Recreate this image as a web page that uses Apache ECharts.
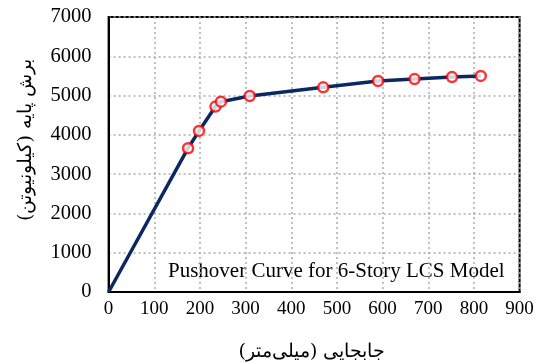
<!DOCTYPE html>
<html>
<head>
<meta charset="utf-8">
<script src="https://cdn.jsdelivr.net/npm/echarts@6/dist/echarts.min.js"></script>
<style>html,body{margin:0;padding:0;background:#fff}#c{width:537px;height:363px}</style>
</head>
<body>
<div id="c"></div>
<script>
var displacement = [0, 174, 198, 234, 246, 309, 470, 590, 670, 752, 815];
var baseShear = [0, 3660, 4100, 4720, 4845, 4990, 5210, 5370, 5420, 5470, 5500];
var markerFrom = 1;
var xTitle = 'جابجایی (میلی‌متر)';
var yTitle = 'برش پایه (کیلونیوتن)';
var chartNote = 'Pushover Curve for 6-Story LCS Model';

var lineData = displacement.map(function (d, i) { return [d, baseShear[i]]; });
var markData = lineData.slice(markerFrom);

var chart = echarts.init(document.getElementById('c'), null, {renderer: 'canvas'});
var font = 'Liberation Serif, Times New Roman, serif';
chart.setOption({
  animation: false,
  grid: {left: 108.6, right: 17.4, top: 17, bottom: 71, show: true, borderColor: '#000', borderWidth: 2, backgroundColor: 'transparent'},
  xAxis: {
    type: 'value', min: 0, max: 900, interval: 100,
    axisLine: {show: true, onZero: false, lineStyle: {color: '#000', width: 2}},
    axisTick: {show: false},
    axisLabel: {color: '#000', fontFamily: font, fontSize: 19, margin: 8, formatter: function (v) { return String(v); }},
    splitLine: {show: true, lineStyle: {color: '#aaa', type: [2, 3], width: 1.5}}
  },
  yAxis: {
    type: 'value', min: 0, max: 7000, interval: 1000,
    axisLine: {show: true, onZero: false, lineStyle: {color: '#000', width: 2}},
    axisTick: {show: false},
    axisLabel: {color: '#000', fontFamily: font, fontSize: 20.5, margin: 17, formatter: function (v) { return String(v); }},
    splitLine: {show: true, lineStyle: {color: '#aaa', type: [2, 3], width: 1.5}}
  },
  graphic: [
    {type: 'text', x: 312, y: 352, style: {text: xTitle, fontFamily: 'DejaVu Serif, Liberation Serif, serif', fontSize: 19, fill: '#000', align: 'center', verticalAlign: 'middle'}},
    {type: 'text', x: 26, y: 140, rotation: Math.PI / 2, style: {text: yTitle, fontFamily: 'DejaVu Serif, Liberation Serif, serif', fontSize: 19, fill: '#000', align: 'center', verticalAlign: 'middle'}},
    {type: 'text', left: 168, top: 261, style: {text: chartNote, fontFamily: font, fontSize: 21, fill: '#000'}}
  ],
  series: [
    {type: 'line', data: lineData, showSymbol: false, symbol: 'none', lineStyle: {color: '#0b2860', width: 3.5}, z: 2},
    {type: 'scatter', data: markData, symbol: 'circle', symbolSize: 10, itemStyle: {color: '#fff', borderColor: '#ff0000', borderWidth: 2.5}, z: 3}
  ]
});
</script>
</body>
</html>
